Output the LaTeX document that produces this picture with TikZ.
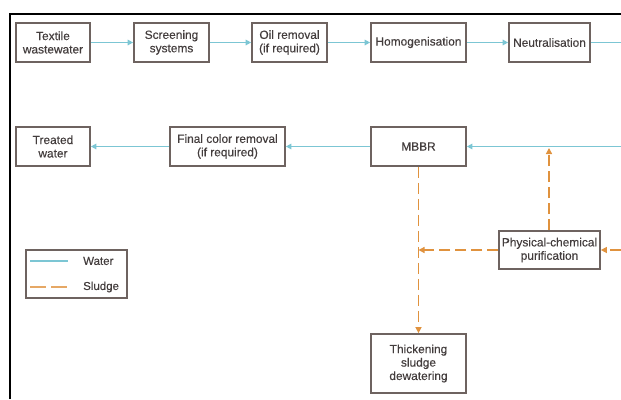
\documentclass[tikz,border=0pt]{standalone}
\usepackage{fontspec}
\setmainfont{Liberation Sans}[FakeBold=0.25]
\usetikzlibrary{arrows.meta}
\definecolor{boxc}{HTML}{6E6360}
\definecolor{txtc}{HTML}{433D3D}
\definecolor{waterc}{HTML}{7CC6D4}
\definecolor{sludgec}{HTML}{E0923E}
\tikzset{
  procbox/.style={draw=boxc, line width=1.7pt, fill=white, text=txtc, align=center,
    inner sep=1pt, font=\fontsize{11.9}{13.4}\selectfont, minimum height=39pt},
  waterline/.style={draw=waterc, line width=1.4pt, -{Triangle[length=5.5pt,width=5.5pt]}},
  sludgeline/.style={draw=sludgec, line width=1.3pt, dash pattern=on 11pt off 5pt, -{Triangle[length=6pt,width=6pt]}},
  legtext/.style={text=txtc, anchor=west, font=\fontsize{11.5}{13}\selectfont, inner sep=0pt}
}
\begin{document}
\begin{tikzpicture}[x=1pt,y=-1pt]
\useasboundingbox (0,0) rectangle (621,399);
\fill[white] (0,0) rectangle (621,399);
\draw[black, line width=1.3pt] (10,399) -- (10,14) -- (621,14);
% top row
\node[procbox, minimum width=74pt] (tw) at (53,42.5) {Textile\\wastewater};
\node[procbox, minimum width=75pt] (ss) at (171.5,42.5) {Screening\\systems};
\node[procbox, minimum width=75pt] (oil) at (289.5,42.5) {Oil removal\\(if required)};
\node[procbox, minimum width=95pt] (hom) at (418.5,42.5) {Homogenisation};
\node[procbox, minimum width=81pt] (neu) at (549.5,42.5) {Neutralisation};
% second row
\node[procbox, minimum width=74pt] (trw) at (53,146.5) {Treated\\water};
\node[procbox, minimum width=115pt] (fcr) at (227.5,146.5) {Final color removal\\(if required)};
\node[procbox, minimum width=95pt] (mbbr) at (418.5,146.5) {MBBR};
% lower
\node[procbox, minimum width=101pt, minimum height=38pt] (pcp) at (549.5,250) {Physical-chemical\\purification};
\node[procbox, minimum width=95pt, minimum height=59pt] (thk) at (418.5,363.5) {Thickening\\sludge\\dewatering};
% free ends
\coordinate (outA) at (621,42.5);
\coordinate (inB) at (621,146.5);
\coordinate (inC) at (621,250);
\coordinate (upEnd) at (549,148);
\coordinate (leftEnd) at (418.5,250);
% water connectors
\draw[waterline] (tw) -- (ss);
\draw[waterline] (ss) -- (oil);
\draw[waterline] (oil) -- (hom);
\draw[waterline] (hom) -- (neu);
\draw[waterline, -] (neu) -- (outA);
\draw[waterline] (inB) -- (mbbr);
\draw[waterline] (mbbr.west) -- (fcr.east);
\draw[waterline] (fcr) -- (trw);
% sludge connectors
\draw[sludgeline] (inC) -- (pcp);
\draw[sludgeline] (pcp.north -| upEnd) -- (upEnd);
\draw[sludgeline] (pcp.west) -- (leftEnd);
\draw[sludgeline] (mbbr.south) -- (thk.north);
% legend
\node[draw=boxc, line width=1.5pt, minimum width=101pt, minimum height=48pt, inner sep=0pt] (leg) at (76.5,274) {};
\draw[draw=waterc, line width=1.2pt] (30,261) -- (68,261);
\draw[draw=sludgec!80, line width=1.2pt, dash pattern=on 16pt off 5pt] (30,287) -- (67,287);
\node[legtext] (lw) at (83,261) {Water};
\node[legtext] (ls) at (83,287) {Sludge};
\end{tikzpicture}
\end{document}
